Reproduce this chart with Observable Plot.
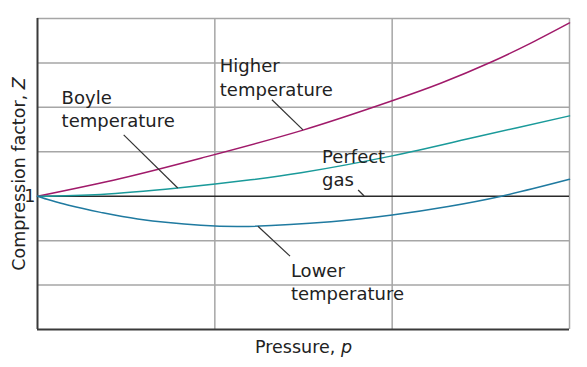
<!DOCTYPE html>
<html>
<head>
<meta charset="utf-8">
<script src="https://cdn.jsdelivr.net/npm/d3@7"></script>
<script src="https://cdn.jsdelivr.net/npm/@observablehq/plot@0.6"></script>
<style>
  html, body { margin: 0; padding: 0; background: #fff; }
  svg { display: block; }
</style>
</head>
<body>
<div id="chart"></div>
<script>
// Pressure (arbitrary units, grid every 1) and compression factor Z
const higherP = [0, 0.469, 0.921, 1.497, 2.0, 2.277, 2.559, 2.785, 3.0];
const higherZ = [1.0, 1.10, 1.214, 1.372, 1.537, 1.637, 1.755, 1.863, 1.975];

const boyleP = [0, 0.356, 0.791, 1.203, 1.486, 2.0, 2.503, 3.0];
const boyleZ = [1.0, 1.010, 1.046, 1.092, 1.132, 1.227, 1.340, 1.452];

const lowerP = [0, 0.073, 0.170, 0.356, 0.565, 0.921, 1.150, 1.655, 2.0, 2.316, 2.616, 3.0];
const lowerZ = [1.0, 0.977, 0.950, 0.909, 0.872, 0.837, 0.830, 0.856, 0.894, 0.942, 1.0, 1.095];

const xGrid = [1, 2, 3];
const yGrid = [0.5, 0.75, 1.25, 1.5, 1.75, 2.0];
const yTickLabels = [1];
const perfectZ = 1;

// Annotation labels (anchored at the baseline of their last line)
const labelText = ["Higher\ntemperature", "Boyle\ntemperature", "Perfect\ngas", "Lower\ntemperature"];
const labelP = [1.028, 0.136, 1.605, 1.429];
const labelZ = [1.565, 1.390, 1.057, 0.414];
// Leader lines
const leaderP1 = [1.322, 0.486, 1.808, 1.243];
const leaderZ1 = [1.543, 1.345, 1.035, 0.831];
const leaderP2 = [1.497, 0.791, 1.842, 1.424];
const leaderZ2 = [1.373, 1.046, 1.001, 0.663];

const toRows = (P, Z) => P.map((p, i) => ({p, z: Z[i]}));
const higher = toRows(higherP, higherZ);
const boyle = toRows(boyleP, boyleZ);
const lower = toRows(lowerP, lowerZ);
const labels = labelText.map((t, i) => ({t, p: labelP[i], z: labelZ[i]}));
const leaders = leaderP1.map((p1, i) => ({p1, z1: leaderZ1[i], p2: leaderP2[i], z2: leaderZ2[i]}));

const font = "'DejaVu Sans', sans-serif";

const chart = Plot.plot({
  width: 587,
  height: 367,
  marginLeft: 37,
  marginRight: 18,
  marginTop: 18,
  marginBottom: 38,
  style: {fontFamily: font, fontSize: "17.5px", color: "#222", background: "#fff"},
  x: {domain: [0, 3], axis: null},
  y: {domain: [0.25, 2.0], axis: null},
  marks: [
    Plot.ruleY(yGrid, {stroke: "#a6a6a6", strokeWidth: 1.5}),
    Plot.ruleX(xGrid, {stroke: "#a6a6a6", strokeWidth: 1.5}),
    Plot.ruleY([perfectZ], {stroke: "#2a2a2a", strokeWidth: 1.5}),
    Plot.ruleX([0], {stroke: "#3a3a3a", strokeWidth: 2}),
    Plot.ruleY([0.25], {stroke: "#3a3a3a", strokeWidth: 2}),
    Plot.axisY(yTickLabels, {tickSize: 0, tickPadding: 2, tickFormat: d => String(d), fontSize: 17.5, fill: "#222"}),
    Plot.line(higher, {x: "p", y: "z", stroke: "#a01a6a", strokeWidth: 1.5, curve: "catmull-rom"}),
    Plot.line(boyle, {x: "p", y: "z", stroke: "#1a9a9a", strokeWidth: 1.5, curve: "catmull-rom"}),
    Plot.line(lower, {x: "p", y: "z", stroke: "#1f7aa0", strokeWidth: 1.5, curve: "catmull-rom"}),
    Plot.link(leaders, {x1: "p1", y1: "z1", x2: "p2", y2: "z2", stroke: "#333", strokeWidth: 1.2}),
    Plot.text(labels, {x: "p", y: "z", text: "t", textAnchor: "start", lineAnchor: "bottom", lineHeight: 1.3, fontSize: 18, fill: "#222"}),
    Plot.text(["Pressure, p"], {frameAnchor: "bottom", textAnchor: "middle", lineAnchor: "bottom", dy: 23, fontSize: 17.5, fill: "#222"}),
    Plot.text(["Compression factor, Z"], {frameAnchor: "left", textAnchor: "middle", rotate: -90, lineAnchor: "bottom", dx: -13, dy: 0, fontSize: 17.5, fill: "#222"})
  ]
});

// Italicise the variable symbols in the axis titles
d3.select(chart).selectAll("text").each(function () {
  const el = d3.select(this);
  const s = this.textContent;
  if (s === "Pressure, p") {
    el.text(null);
    el.append("tspan").text("Pressure, ");
    el.append("tspan").attr("font-style", "italic").text("p");
  } else if (s === "Compression factor, Z") {
    el.text(null);
    el.append("tspan").text("Compression factor, ");
    el.append("tspan").attr("font-style", "italic").text("Z");
  }
});

document.getElementById("chart").appendChild(chart);
</script>
</body>
</html>
